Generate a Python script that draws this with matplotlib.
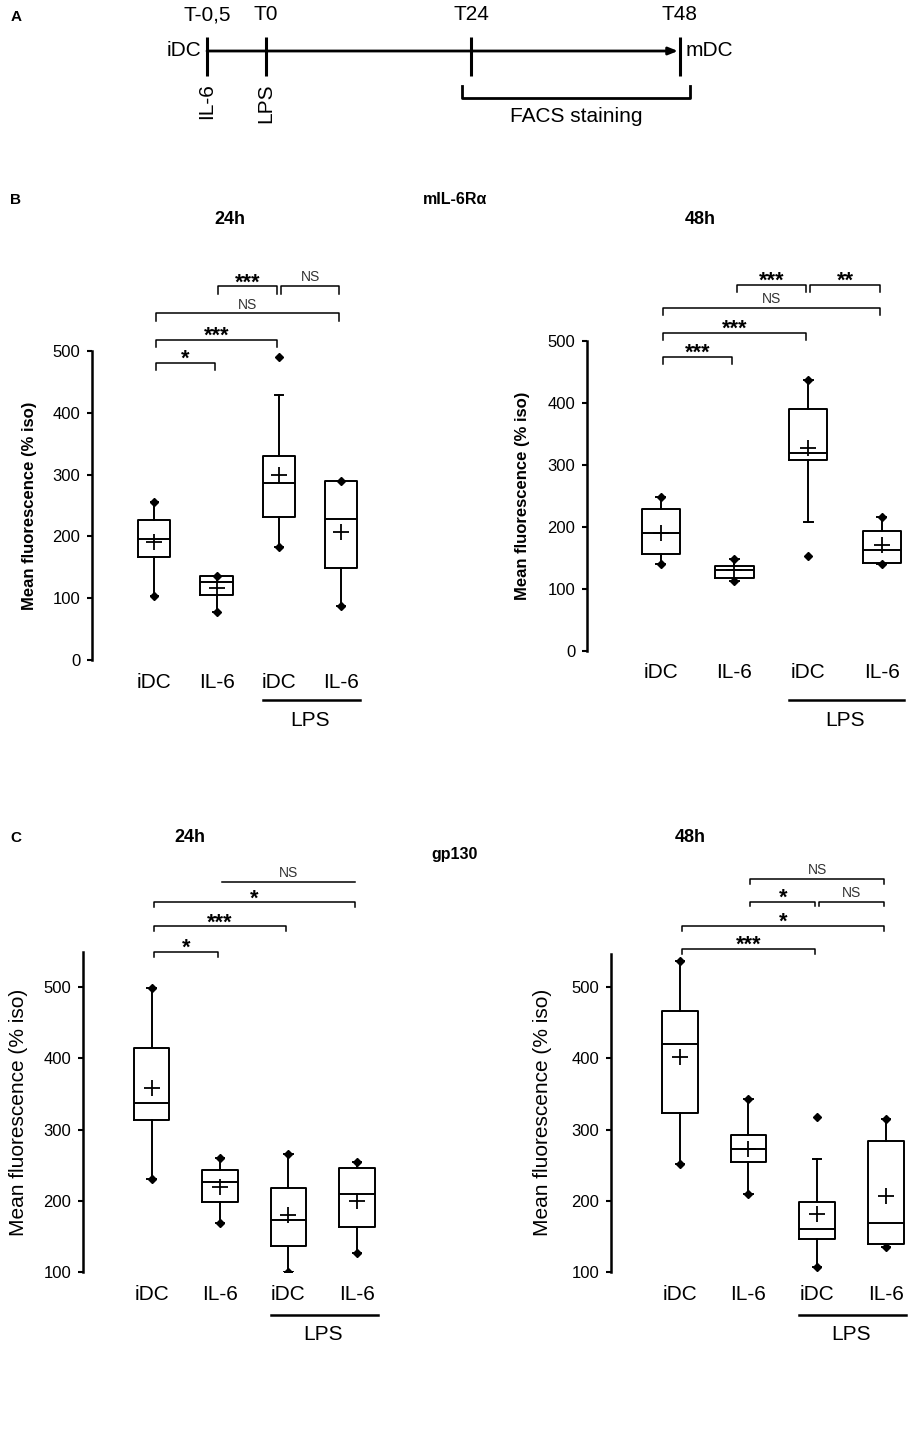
import matplotlib
matplotlib.use("Agg")
import matplotlib.pyplot as plt
import matplotlib.transforms as mtransforms

plt.rcParams["font.family"] = ["Liberation Sans", "DejaVu Sans"]

W, H = 912, 1443

GROUPS = ["iDC", "IL-6", "iDC", "IL-6"]

# timeline (panel A)
TIME_LABELS = ["T-0,5", "T0", "T24", "T48"]
TREAT_LABELS = ["IL-6", "LPS"]

# one row per box: min, whisker low, q1, median, q3, whisker high, max, mean
MIL6R_24H = [
    [104, 104, 167, 196, 226, 255, 255, 191],
    [77, 77, 106, 127, 136, 136, 136, 117],
    [183, 183, 231, 287, 330, 429, 491, 299],
    [87, 87, 149, 228, 289, 290, 290, 208],
]
MIL6R_48H = [
    [140, 140, 156, 191, 230, 249, 249, 191],
    [113, 113, 118, 131, 138, 149, 149, 131],
    [153, 209, 309, 319, 391, 437, 437, 327],
    [140, 140, 142, 163, 194, 217, 217, 171],
]
GP130_24H = [
    [230, 230, 314, 337, 415, 499, 499, 358],
    [169, 169, 198, 226, 243, 260, 260, 219],
    [100, 100, 136, 173, 218, 266, 266, 180],
    [126, 126, 163, 209, 246, 255, 255, 199],
]
GP130_48H = [
    [252, 252, 323, 420, 466, 537, 537, 402],
    [210, 210, 255, 272, 292, 343, 343, 273],
    [107, 107, 147, 160, 198, 259, 318, 182],
    [135, 135, 140, 169, 284, 315, 315, 207],
]

# significance brackets: (box a, box b, height, label, with legs)
MIL6R_24H_SIG = [(1, 2, 481, "*", True), (1, 3, 518, "***", True), (1, 4, 561, "NS", True),
                 (2, 3, 605, "***", True), (3, 4, 605, "NS", True)]
MIL6R_48H_SIG = [(1, 2, 475, "***", True), (1, 3, 514, "***", True), (1, 4, 554, "NS", True),
                 (2, 3, 591, "***", True), (3, 4, 591, "**", True)]
GP130_24H_SIG = [(1, 2, 549, "*", True), (1, 3, 585, "***", True), (1, 4, 619, "*", True),
                 (2, 4, 648, "NS", False)]
GP130_48H_SIG = [(1, 3, 554, "***", True), (1, 4, 586, "*", True), (2, 3, 620, "*", True),
                 (3, 4, 620, "NS", True), (2, 4, 652, "NS", True)]


fig = plt.figure(figsize=(W / 100, H / 100), dpi=100)


def px_axes(x0, y0, x1, y1):
    # pixel box (top-left origin) -> figure axes
    return fig.add_axes([x0 / W, 1 - y1 / H, (x1 - x0) / W, (y1 - y0) / H])


def ftext(x, y, s, **kw):
    kw.setdefault("ha", "center")
    kw.setdefault("va", "center")
    fig.text(x / W, 1 - y / H, s, **kw)


def draw_panel(ax, stats, sig, ylim, spine_top, ticks, leg, lps_off, ylab_kw, ylab_x):
    boxes = []
    for mn, wlo, q1, med, q3, whi, mx, mean in stats:
        boxes.append(dict(whislo=wlo, q1=q1, med=med, q3=q3, whishi=whi,
                          mean=mean, fliers=[mn, mx]))
    pos = list(range(1, len(boxes) + 1))
    ax.bxp(boxes, positions=pos, widths=0.52, showmeans=True, showfliers=True,
           capwidths=0.12,
           boxprops=dict(color="black", lw=1.4),
           medianprops=dict(color="black", lw=1.4),
           whiskerprops=dict(color="black", lw=1.4),
           capprops=dict(color="black", lw=1.4),
           meanprops=dict(marker="+", markersize=11, markeredgecolor="black",
                          markeredgewidth=1.3),
           flierprops=dict(marker="D", markersize=4.5, markerfacecolor="black",
                           markeredgecolor="black"))
    ax.set_xlim(0, 4.4)
    ax.set_ylim(*ylim)
    for s in ["top", "right", "bottom"]:
        ax.spines[s].set_visible(False)
    ax.spines["left"].set_linewidth(1.8)
    ax.spines["left"].set_bounds(ticks[0], spine_top)
    ax.set_yticks(ticks)
    ax.tick_params(axis="y", length=3.5, width=1.5, pad=5, labelsize=12)
    ax.set_xticks(pos)
    ax.set_xticklabels(GROUPS, fontsize=15)
    ax.tick_params(axis="x", length=0, pad=9)
    ax.set_ylabel("Mean fluorescence (% iso)", **ylab_kw)
    # centre the label on the drawn part of the axis
    mid = (ticks[0] + spine_top) / 2
    ax.yaxis.set_label_coords(ylab_x, (mid - ylim[0]) / (ylim[1] - ylim[0]))

    # LPS underline below the two LPS-treated groups
    tr_line = mtransforms.offset_copy(ax.get_xaxis_transform(), fig=fig, y=-lps_off, units="dots")
    ax.plot([2.74, 4.3], [0, 0], color="black", lw=1.8, transform=tr_line, clip_on=False)
    tr_txt = mtransforms.offset_copy(ax.get_xaxis_transform(), fig=fig, y=-lps_off - 20, units="dots")
    ax.text(3.5, 0, "LPS", ha="center", va="center", fontsize=15, transform=tr_txt)

    for a, b, y, lab, legs in sig:
        x0, x1 = a + 0.03, b - 0.03
        if legs:
            ax.plot([x0, x0, x1, x1], [y - leg, y, y, y - leg], color="black", lw=1.1,
                    clip_on=False)
        else:
            ax.plot([x0, x1], [y, y], color="black", lw=1.1, clip_on=False)
        if lab == "NS":
            ax.annotate(lab, ((x0 + x1) / 2, y), xytext=(0, 3.5), textcoords="offset points",
                        ha="center", va="baseline", fontsize=10, color="#333333")
        else:
            ax.annotate(lab, ((x0 + x1) / 2, y), xytext=(0, -1.5), textcoords="offset points",
                        ha="center", va="baseline", fontsize=15.5, fontweight="bold")


# ---- panel A: timeline ----
ax_t = px_axes(0, 0, W, 140)
ax_t.set_xlim(0, W)
ax_t.set_ylim(140, 0)
ax_t.axis("off")
tpos = [207, 266, 471, 680]
ax_t.annotate("", xy=(tpos[-1] - 2, 51), xytext=(tpos[0], 51),
              arrowprops=dict(arrowstyle="-|>,head_length=0.55,head_width=0.22",
                              lw=2, color="black", shrinkA=0, shrinkB=0))
ax_t.vlines(tpos, 37, 76, color="black", lw=2.2)
for p, lab in zip(tpos, TIME_LABELS):
    ax_t.text(p, 15, lab, ha="center", va="center", fontsize=15)
for p, lab in zip(tpos, TREAT_LABELS):
    ax_t.text(p, 83, lab, ha="center", va="top", rotation=90, fontsize=15)
ax_t.text(tpos[0] - 6, 51, "iDC", ha="right", va="center", fontsize=15)
ax_t.text(tpos[-1] + 6, 51, "mDC", ha="left", va="center", fontsize=15)
ax_t.plot([462, 462, 690, 690], [86, 98, 98, 86], color="black", lw=2)
ax_t.text(576, 116, "FACS staining", ha="center", va="center", fontsize=15)

# ---- panel B: mIL-6Ra ----
b_ylab = dict(fontsize=12, fontweight="bold")
ax1 = px_axes(92, 277, 92 + 4.4 * 62.3, 660)
draw_panel(ax1, MIL6R_24H, MIL6R_24H_SIG, (0, 620), 500, range(0, 501, 100), 12, 40,
           b_ylab, -0.2)
ax2 = px_axes(587, 267, 587 + 4.4 * 73.7, 651)
draw_panel(ax2, MIL6R_48H, MIL6R_48H_SIG, (0, 620), 500, range(0, 501, 100), 12, 49,
           b_ylab, -0.176)

# ---- panel C: gp130 ----
c_ylab = dict(fontsize=15)
ax3 = px_axes(83, 873, 83 + 4.4 * 68.5, 1272)
draw_panel(ax3, GP130_24H, GP130_24H_SIG, (100, 660), 549, range(100, 501, 100), 7, 43,
           c_ylab, -0.183)
ax4 = px_axes(611, 873, 611 + 4.4 * 68.7, 1272)
draw_panel(ax4, GP130_48H, GP130_48H_SIG, (100, 660), 547, range(100, 501, 100), 7, 43,
           c_ylab, -0.195)

# panel letters and titles
ftext(16, 17, "A", fontsize=11, fontweight="bold")
ftext(16, 200, "B", fontsize=11, fontweight="bold")
ftext(16, 838, "C", fontsize=11, fontweight="bold")
ftext(455, 200, "mIL-6R\u03b1", fontsize=11.5, fontweight="bold")
ftext(230, 219, "24h", fontsize=13, fontweight="bold")
ftext(700, 219, "48h", fontsize=13, fontweight="bold")
ftext(455, 855, "gp130", fontsize=11.5, fontweight="bold")
ftext(190, 838, "24h", fontsize=13, fontweight="bold")
ftext(690, 838, "48h", fontsize=13, fontweight="bold")

fig.savefig("out.png", dpi=100)
